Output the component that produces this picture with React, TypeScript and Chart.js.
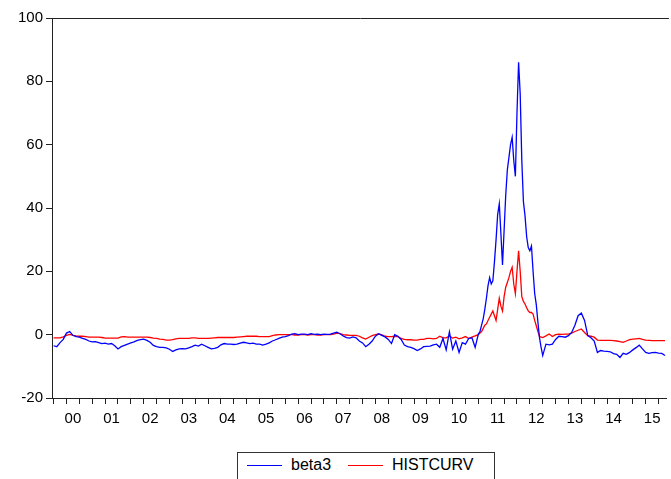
import React, { useEffect, useRef } from "react";
import { Chart, registerables } from "chart.js";

Chart.register(...registerables);

// Monthly values, Jan 2000 .. Dec 2010 (month index 0..131)
const beta3Early: number[] = [
  -3.5, -3.8, -2.5, -1.5, 0.5, 1.0, -0.2, -0.6, -0.8, -1.2, -1.5, -2.0,
  -2.3, -2.2, -2.5, -2.8, -2.7, -3.0, -2.8, -3.5, -4.5, -3.8, -3.4, -3.0,
  -2.6, -2.3, -1.8, -1.6, -1.4, -1.8, -2.4, -3.4, -3.8, -4.0, -4.0, -4.2,
  -4.6, -5.3, -4.8, -4.5, -4.4, -4.5, -4.2, -3.8, -3.3, -3.6, -3.0, -3.5,
  -4.0, -4.5, -4.3, -4.0, -3.2, -2.8, -3.0, -3.0, -3.1, -3.0, -2.7, -2.4,
  -2.6, -2.8, -2.7, -3.0, -3.0, -3.3, -3.0, -2.6, -2.0, -1.6, -1.2, -0.8,
  -0.6, -0.3, 0.2, 0.3, 0.0, 0.2, 0.2, 0.0, 0.3, 0.1, 0.2, 0.0,
  0.2, 0.1, 0.2, 0.5, 0.8, 0.3, -0.4, -0.9, -1.1, -0.7, -1.0, -2.0,
  -2.6, -3.8, -3.0, -2.0, -0.5, 0.3, -0.2, -0.7, -1.5, -2.8, 0.0, -0.5,
  -1.5, -3.3, -3.8, -4.0, -4.4, -5.0, -4.5, -3.8, -3.7, -3.6, -3.2, -3.0,
  -4.0, -1.2, -4.8, 0.9, -4.6, -2.0, -5.6, -2.5, -3.0, -1.2, -1.0, -4.0,
];
const histEarly: number[] = [
  -1.0, -1.0, -1.0, -0.7, -0.2, 0.1, -0.2, -0.4, -0.5, -0.5, -0.6, -0.8,
  -0.8, -0.8, -0.8, -0.9, -1.1, -1.1, -1.1, -1.1, -1.1, -0.7, -0.6, -0.8,
  -0.8, -0.8, -0.8, -0.8, -0.8, -0.8, -0.9, -1.1, -1.2, -1.4, -1.5, -1.7,
  -1.7, -1.6, -1.3, -1.2, -1.2, -1.2, -1.2, -1.0, -1.0, -1.2, -1.2, -1.2,
  -1.2, -1.1, -1.0, -0.9, -0.9, -0.9, -0.9, -0.9, -0.9, -0.8, -0.7, -0.6,
  -0.5, -0.5, -0.5, -0.5, -0.6, -0.6, -0.6, -0.6, -0.3, -0.1, 0.0, 0.0,
  0.0, 0.0, 0.0, -0.1, -0.1, 0.0, 0.0, -0.1, 0.0, 0.0, -0.1, -0.1,
  0.0, 0.0, 0.0, 0.2, 0.5, 0.3, 0.0, -0.1, -0.2, -0.2, -0.2, -0.5,
  -1.0, -1.4, -0.8, -0.3, 0.0, 0.2, -0.1, -0.5, -0.6, -0.6, -0.5, -0.6,
  -1.2, -1.5, -1.6, -1.6, -1.7, -1.7, -1.5, -1.5, -1.2, -1.2, -1.3, -1.2,
  -0.5, -1.0, -1.0, -0.4, -1.1, -0.8, -1.3, -1.0, -0.6, -1.2, -0.8, -0.4,
];

// Half-monthly values, Jan 2011 .. Sep 2012 (month index 132..152)
const beta3Peak: number[] = [
  0.2, 1.0, 3.0, 5.0, 8.0, 11.5, 15.5, 18.0, 16.0, 17.0,
  23.0, 30.0, 38.0, 41.3, 32.0, 22.0, 33.0, 44.0, 52.0, 56.0,
  60.0, 62.3, 55.0, 50.0, 70.0, 86.0, 76.0, 55.0, 42.0, 37.5,
  31.0, 27.5, 26.5, 28.0, 20.0, 13.0, 9.5, 4.0, -1.0, -4.0,
  -6.6,
];
const histPeak: number[] = [
  0.0, 0.5, 1.0, 2.0, 3.0, 3.4, 4.5, 5.5, 6.5, 7.5,
  6.0, 4.5, 8.0, 11.5, 9.0, 7.5, 12.0, 15.0, 16.5, 18.0,
  20.0, 21.3, 16.0, 13.0, 20.0, 26.5, 20.0, 12.0, 10.5, 9.7,
  8.5, 7.5, 7.0, 7.0, 6.5, 4.5, 2.8, 1.0, -0.5, -0.8,
  -0.9,
];

// Monthly values, Oct 2012 .. Nov 2015 (month index 153..190)
const beta3Late: number[] = [
  -3.0, -3.2, -3.0, -1.5, -0.5, -0.6, -0.8, -0.3, 0.7, 3.0,
  6.0, 6.8, 4.5, -0.3, -1.0, -2.0, -5.6, -5.0, -5.2, -5.3,
  -5.4, -6.0, -6.2, -7.2, -5.9, -6.2, -5.6, -4.8, -4.1, -3.3,
  -4.5, -5.6, -5.9, -5.7, -5.6, -5.8, -5.9, -6.6,
];
const histLate: number[] = [
  -0.4, 0.2, -0.6, 0.0, 0.2, 0.1, 0.2, 0.2, 0.5, 1.0,
  1.4, 1.8, 0.7, -0.3, -0.5, -0.8, -1.7, -1.8, -1.8, -1.8,
  -1.8, -1.9, -2.0, -2.2, -2.4, -2.0, -1.6, -1.4, -1.3, -1.2,
  -1.5, -1.7, -1.8, -1.9, -1.9, -1.9, -1.9, -1.9,
];

const yearLabels: string[] = [
  "00", "01", "02", "03", "04", "05", "06", "07",
  "08", "09", "10", "11", "12", "13", "14", "15",
];
const yTicks: number[] = [-20, 0, 20, 40, 60, 80, 100];

const seriesNames = ["beta3", "HISTCURV"];
const seriesColors = ["#0000ff", "#ff0000"];

function toPoints(early: number[], peak: number[], late: number[]) {
  const pts: { x: number; y: number }[] = [];
  early.forEach((v, i) => pts.push({ x: i, y: v }));
  peak.forEach((v, i) => pts.push({ x: 132 + i * 0.5, y: v }));
  late.forEach((v, i) => pts.push({ x: 153 + i, y: v }));
  return pts;
}

const FONT = "'Liberation Sans', Arial, sans-serif";

const topBorder = {
  id: "topBorder",
  afterDraw(chart: any) {
    const { ctx, chartArea } = chart;
    ctx.save();
    ctx.strokeStyle = "#222";
    ctx.lineWidth = 1;
    ctx.beginPath();
    ctx.moveTo(chartArea.left, Math.round(chartArea.top) + 0.5);
    ctx.lineTo(chartArea.right + 2, Math.round(chartArea.top) + 0.5);
    ctx.stroke();
    ctx.restore();
  },
};

export default function App() {
  const ref = useRef<HTMLCanvasElement | null>(null);

  useEffect(() => {
    if (!ref.current) return;
    const xTickValues: number[] = [];
    for (let m = 0; m <= 190; m += 2) xTickValues.push(m);

    const chart = new Chart(ref.current, {
      type: "line",
      data: {
        datasets: [
          {
            label: seriesNames[0],
            data: toPoints(beta3Early, beta3Peak, beta3Late),
            borderColor: seriesColors[0],
            borderWidth: 1.3,
            pointRadius: 0,
            tension: 0,
            fill: false,
          },
          {
            label: seriesNames[1],
            data: toPoints(histEarly, histPeak, histLate),
            borderColor: seriesColors[1],
            borderWidth: 1.3,
            pointRadius: 0,
            tension: 0,
            fill: false,
          },
        ],
      },
      options: {
        responsive: false,
        animation: false,
        devicePixelRatio: 1,
        layout: { padding: { top: 18, right: 0, bottom: 0, left: 0 } },
        plugins: { legend: { display: false }, tooltip: { enabled: false } },
        scales: {
          x: {
            type: "linear",
            min: -0.5,
            max: 190.6,
            afterBuildTicks: (scale: any) => {
              scale.ticks = xTickValues.map((v) => ({ value: v }));
            },
            afterFit: (scale: any) => {
              scale.height = 42;
            },
            ticks: {
              autoSkip: false,
              maxRotation: 0,
              minRotation: 0,
              padding: 6,
              color: "#000",
              font: { family: FONT, size: 15 },
              callback: (value: any) => {
                const v = Number(value);
                if (v % 12 === 6) return yearLabels[(v - 6) / 12] ?? "";
                return "";
              },
            },
            grid: {
              display: true,
              drawOnChartArea: false,
              drawTicks: true,
              tickLength: 6,
              tickWidth: 1,
              tickColor: (ctx: any) =>
                ctx.tick && ctx.tick.value % 4 === 0 ? "#222" : "rgba(0,0,0,0)",
            },
            border: { display: true, color: "#222", width: 1 },
          },
          y: {
            type: "linear",
            min: -20,
            max: 100,
            afterBuildTicks: (scale: any) => {
              scale.ticks = yTicks.map((v) => ({ value: v }));
            },
            afterFit: (scale: any) => {
              scale.width = 52;
            },
            ticks: {
              padding: 3,
              color: "#000",
              font: { family: FONT, size: 15 },
            },
            grid: {
              display: true,
              drawOnChartArea: false,
              drawTicks: true,
              tickLength: 6,
              tickColor: "#222",
            },
            border: { display: true, color: "#222", width: 1 },
          },
        },
      },
      plugins: [topBorder],
    });
    return () => chart.destroy();
  }, []);

  const legendText: React.CSSProperties = {
    position: "absolute",
    top: 2,
    lineHeight: "20px",
    fontFamily: FONT,
    fontSize: 16,
    color: "#000",
    whiteSpace: "nowrap",
  };
  const legendLine = (left: number, color: string): React.CSSProperties => ({
    position: "absolute",
    left,
    top: 12,
    width: 35,
    height: 1,
    background: color,
  });

  return (
    <div
      style={{
        position: "absolute",
        left: 0,
        top: 0,
        width: 671,
        height: 479,
        overflow: "hidden",
        background: "#fff",
      }}
    >
      <canvas
        ref={ref}
        width={671}
        height={440}
        style={{ position: "absolute", left: 0, top: 0, width: 671, height: 440 }}
      />
      <div
        style={{
          position: "absolute",
          left: 237,
          top: 452,
          width: 258,
          height: 40,
          border: "1px solid #333",
          boxSizing: "border-box",
        }}
      >
        <div style={legendLine(9, seriesColors[0])} />
        <span style={{ ...legendText, left: 53 }}>{seriesNames[0]}</span>
        <div style={legendLine(110, seriesColors[1])} />
        <span style={{ ...legendText, left: 154 }}>{seriesNames[1]}</span>
      </div>
    </div>
  );
}
